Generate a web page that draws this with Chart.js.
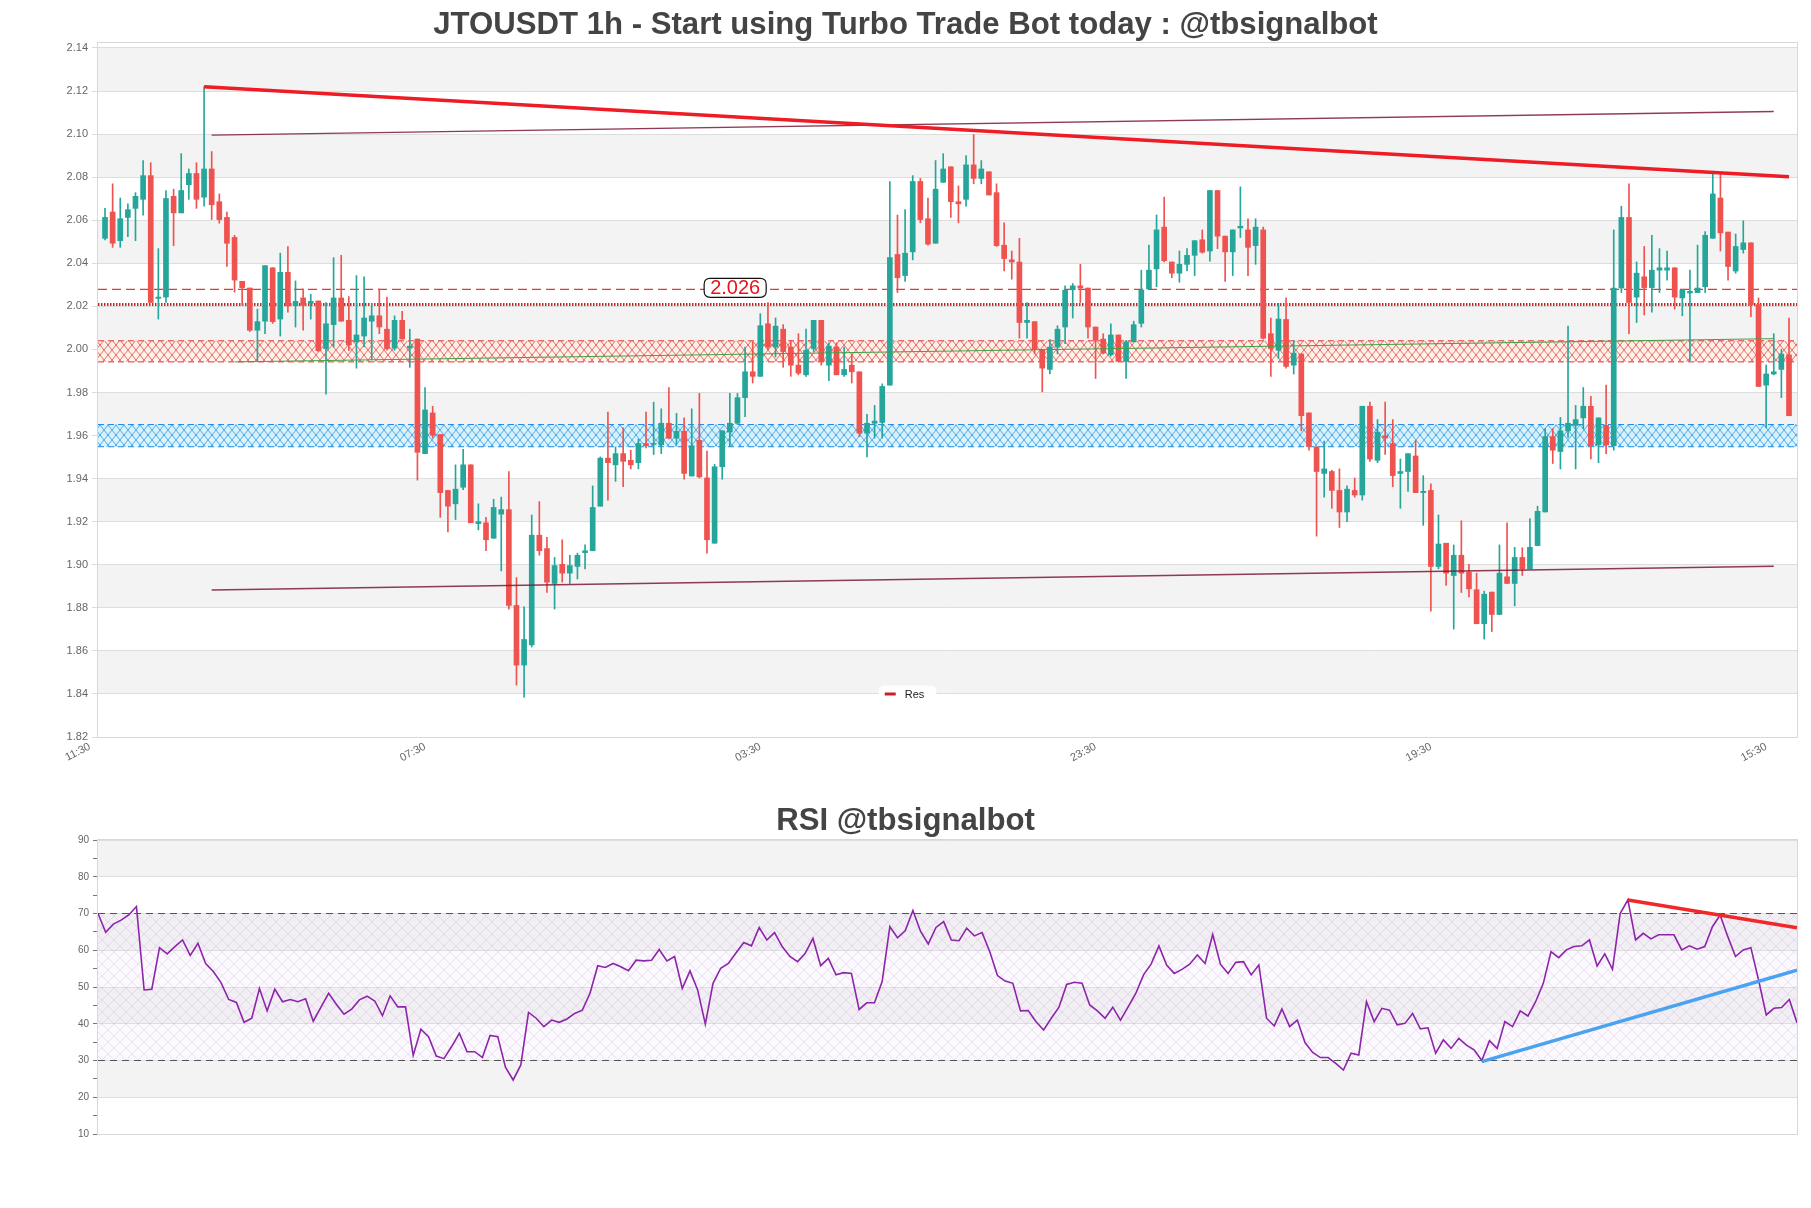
<!DOCTYPE html>
<html><head><meta charset="utf-8">
<script src="https://cdn.jsdelivr.net/npm/chart.js@4.4.1/dist/chart.umd.min.js"></script>
<style>
html,body{margin:0;padding:0;background:#fff;}
#wrap{position:relative;width:1811px;height:1208px;overflow:hidden;background:#fff;}
canvas{position:absolute;left:0;}
</style></head><body>
<div id="wrap">
<canvas id="c1" width="1811" height="790" style="top:0"></canvas>
<canvas id="c2" width="1811" height="418" style="top:790px"></canvas>
</div>
<script>
const mainTitle = 'JTOUSDT 1h - Start using Turbo Trade Bot today : @tbsignalbot';
const rsiTitle = 'RSI @tbsignalbot';
const timeTickIndex = [-2, 42, 86, 130, 174, 218];
const timeTickLabels = ['11:30', '07:30', '03:30', '23:30', '19:30', '15:30'];
const priceTicks = [1.82,1.84,1.86,1.88,1.90,1.92,1.94,1.96,1.98,2.00,2.02,2.04,2.06,2.08,2.10,2.12,2.14];
const rsiTicks = [10,15,20,25,30,35,40,45,50,55,60,65,70,75,80,85,90];

const opens = [
2.0516,2.0638,2.0505,2.0613,2.0655,2.0697,2.0807,2.0237,2.0243,2.0711,
2.0634,2.0765,2.0817,2.0707,2.0838,2.0686,2.0613,2.0520,2.0316,2.0285,
2.0089,2.0131,2.0379,2.0141,2.0358,2.0204,2.0239,2.0214,2.0225,2.0004,
2.0115,2.0239,2.0135,2.0035,2.0062,2.0131,2.0156,2.0094,2.0006,2.0135,
2.0006,2.0048,1.9516,1.9705,1.9605,1.9345,1.9283,1.9360,1.9464,1.9191,
1.9195,1.9123,1.9235,1.9256,1.8811,1.8534,1.8628,1.9137,1.9075,1.8913,
1.9002,1.8961,1.8992,1.9056,1.9065,1.9272,1.9495,1.9464,1.9516,1.9485,
1.9474,1.9563,1.9559,1.9557,1.9657,1.9588,1.9620,1.9412,1.9578,1.9403,
1.9100,1.9455,1.9616,1.9657,1.9776,1.9896,1.9875,2.0119,2.0011,2.0094,
2.0011,1.9927,1.9882,2.0004,2.0135,1.9927,2.0011,1.9882,1.9927,1.9896,
1.9611,1.9657,1.9661,1.9834,2.0441,2.0343,2.0453,2.0780,2.0607,2.0493,
2.0776,2.0848,2.0686,2.0697,2.0857,2.0794,2.0825,2.0728,2.0484,2.0416,
2.0406,2.0125,2.0129,2.0000,1.9907,2.0011,2.0104,2.0277,2.0295,2.0285,
2.0104,2.0048,1.9975,2.0067,1.9944,2.0035,2.0121,2.0281,2.0374,2.0568,
2.0406,2.0354,2.0395,2.0437,2.0509,2.0457,2.0738,2.0526,2.0453,2.0564,
2.0555,2.0482,2.0555,2.0073,1.9996,2.0139,1.9927,1.9979,1.9705,1.9547,
1.9424,1.9433,1.9345,1.9245,1.9345,1.9324,1.9736,1.9485,1.9599,1.9563,
1.9424,1.9433,1.9505,1.9335,1.9345,1.8992,1.9100,1.8950,1.9044,1.8965,
1.8884,1.8726,1.8873,1.8769,1.8944,1.8913,1.9034,1.8981,1.9089,1.9245,
1.9595,1.9526,1.9622,1.9647,1.9682,1.9736,1.9557,1.9647,1.9553,2.0285,
2.0613,2.0243,2.0337,2.0287,2.0368,2.0368,2.0379,2.0239,2.0262,2.0264,
2.0291,2.0516,2.0703,2.0545,2.0364,2.0464,2.0495,2.0208,1.9834,1.9886,
1.9907,1.9975];
const highs = [
2.0655,2.0769,2.0703,2.0676,2.0728,2.0877,2.0867,2.0468,2.0738,2.0744,
2.0909,2.0838,2.0867,2.1220,2.0919,2.0722,2.0638,2.0530,2.0316,2.0285,
2.0187,2.0389,2.0379,2.0447,2.0478,2.0318,2.0281,2.0256,2.0225,2.0218,
2.0426,2.0437,2.0245,2.0343,2.0337,2.0214,2.0281,2.0243,2.0156,2.0177,
2.0094,2.0048,1.9823,1.9736,1.9605,1.9345,1.9464,1.9536,1.9464,1.9283,
1.9220,1.9304,1.9314,1.9433,1.8940,1.8805,1.9231,1.9293,1.9127,1.9034,
1.9116,1.9044,1.9054,1.9092,1.9366,1.9501,1.9709,1.9547,1.9636,1.9532,
1.9584,1.9709,1.9755,1.9724,1.9823,1.9703,1.9682,1.9724,1.9796,1.9528,
1.9466,1.9622,1.9796,1.9796,2.0011,2.0035,2.0166,2.0218,2.0146,2.0115,
2.0042,2.0073,2.0094,2.0135,2.0135,2.0031,2.0031,2.0011,1.9979,1.9896,
1.9699,1.9740,1.9840,2.0780,2.0624,2.0649,2.0807,2.0794,2.0703,2.0877,
2.0909,2.0848,2.0759,2.0900,2.0998,2.0877,2.0825,2.0769,2.0588,2.0457,
2.0516,2.0218,2.0129,2.0000,2.0046,2.0110,2.0295,2.0306,2.0395,2.0285,
2.0104,2.0073,2.0119,2.0067,2.0042,2.0131,2.0368,2.0484,2.0624,2.0707,
2.0406,2.0457,2.0468,2.0505,2.0555,2.0738,2.0738,2.0526,2.0555,2.0755,
2.0607,2.0607,2.0568,2.0146,2.0214,2.0239,2.0042,1.9979,1.9705,1.9547,
1.9574,1.9439,1.9445,1.9366,1.9403,1.9736,1.9755,1.9674,1.9755,1.9674,
1.9491,1.9516,1.9578,1.9414,1.9376,1.9231,1.9100,1.9092,1.9204,1.9002,
1.8961,1.8877,1.8873,1.9092,1.9195,1.9081,1.9079,1.9214,1.9272,1.9632,
1.9632,1.9684,2.0108,1.9740,1.9823,1.9782,1.9682,1.9834,2.0555,2.0665,
2.0769,2.0406,2.0478,2.0530,2.0468,2.0457,2.0379,2.0277,2.0368,2.0484,
2.0547,2.0817,2.0817,2.0545,2.0536,2.0597,2.0495,2.0239,1.9927,2.0073,
2.0000,2.0146];
const lows = [
2.0509,2.0474,2.0474,2.0524,2.0505,2.0624,2.0218,2.0141,2.0218,2.0482,
2.0634,2.0697,2.0655,2.0665,2.0603,2.0586,2.0385,2.0266,2.0204,2.0083,
1.9948,2.0073,2.0121,2.0062,2.0173,2.0104,2.0089,2.0141,1.9990,1.9792,
2.0011,2.0131,1.9994,1.9913,2.0011,1.9952,2.0073,1.9996,1.9996,2.0048,
1.9917,1.9393,1.9516,1.9588,1.9220,1.9152,1.9210,1.9349,1.9195,1.9162,
1.9065,1.9123,1.8971,1.8794,1.8441,1.8385,1.8618,1.9044,1.8871,1.8794,
1.8919,1.8913,1.8934,1.8981,1.9065,1.9272,1.9300,1.9387,1.9362,1.9445,
1.9445,1.9543,1.9512,1.9516,1.9584,1.9559,1.9397,1.9412,1.9403,1.9054,
1.9100,1.9397,1.9549,1.9651,1.9688,1.9844,1.9875,2.0000,1.9965,1.9917,
1.9875,1.9882,1.9875,1.9990,1.9927,1.9855,1.9882,1.9875,1.9844,1.9595,
1.9501,1.9588,1.9588,1.9834,2.0264,2.0316,2.0416,2.0588,2.0484,2.0493,
2.0776,2.0613,2.0588,2.0665,2.0769,2.0769,2.0717,2.0478,2.0364,2.0326,
2.0052,2.0052,1.9979,1.9803,1.9886,1.9979,2.0027,2.0146,2.0218,2.0052,
1.9865,1.9979,1.9969,1.9944,1.9865,2.0035,2.0104,2.0281,2.0291,2.0406,
2.0333,2.0312,2.0364,2.0343,2.0447,2.0410,2.0468,2.0316,2.0343,2.0520,
2.0343,2.0395,2.0048,1.9875,1.9958,1.9913,1.9886,1.9622,1.9532,1.9133,
1.9314,1.9262,1.9173,1.9200,1.9314,1.9300,1.9480,1.9474,1.9512,1.9362,
1.9262,1.9341,1.9335,1.9183,1.8784,1.8981,1.8904,1.8701,1.8871,1.8850,
1.8726,1.8655,1.8690,1.8769,1.8913,1.8809,1.8950,1.8981,1.9089,1.9245,
1.9470,1.9445,1.9591,1.9445,1.9632,1.9491,1.9474,1.9516,1.9532,2.0264,
2.0073,2.0125,2.0160,2.0173,2.0264,2.0322,2.0187,2.0156,1.9948,2.0264,
2.0264,2.0516,2.0457,2.0322,2.0354,2.0447,2.0152,1.9828,1.9636,1.9882,
1.9776,1.9692];
const closes = [
2.0613,2.0493,2.0607,2.0649,2.0711,2.0807,2.0218,2.0243,2.0701,2.0634,
2.0738,2.0817,2.0697,2.0838,2.0672,2.0603,2.0493,2.0322,2.0287,2.0089,
2.0129,2.0389,2.0129,2.0358,2.0202,2.0223,2.0204,2.0223,1.9994,2.0119,
2.0239,2.0131,2.0021,2.0067,2.0146,2.0156,2.0104,2.0004,2.0135,2.0048,
2.0015,1.9522,1.9719,1.9601,1.9335,1.9272,1.9351,1.9464,1.9195,1.9200,
1.9116,1.9266,1.9256,1.8811,1.8534,1.8653,1.9137,1.9065,1.8919,1.8996,
1.8961,1.8996,1.9044,1.9065,1.9266,1.9495,1.9474,1.9516,1.9480,1.9464,
1.9563,1.9553,1.9563,1.9657,1.9588,1.9620,1.9424,1.9553,1.9408,1.9116,
1.9455,1.9622,1.9657,1.9776,1.9896,1.9875,2.0110,2.0011,2.0108,1.9990,
1.9927,1.9890,1.9996,2.0135,1.9944,2.0015,1.9882,1.9907,1.9896,1.9611,
1.9657,1.9667,1.9828,2.0426,2.0333,2.0447,2.0780,2.0603,2.0489,2.0744,
2.0838,2.0686,2.0676,2.0857,2.0794,2.0838,2.0717,2.0482,2.0422,2.0406,
2.0125,2.0135,2.0000,1.9913,2.0011,2.0094,2.0275,2.0295,2.0285,2.0104,
2.0042,1.9983,2.0067,1.9944,2.0035,2.0115,2.0275,2.0368,2.0555,2.0412,
2.0354,2.0395,2.0437,2.0505,2.0451,2.0738,2.0526,2.0453,2.0555,2.0572,
2.0474,2.0568,2.0052,2.0004,2.0141,1.9921,1.9983,1.9692,1.9549,1.9433,
1.9445,1.9345,1.9245,1.9351,1.9324,1.9736,1.9491,1.9616,1.9588,1.9414,
1.9433,1.9516,1.9335,1.9341,1.8992,1.9096,1.8961,1.9044,1.8961,1.8888,
1.8726,1.8863,1.8769,1.8961,1.8913,1.9034,1.8981,1.9081,1.9248,1.9595,
1.9532,1.9622,1.9657,1.9674,1.9736,1.9553,1.9682,1.9557,2.0285,2.0613,
2.0218,2.0354,2.0287,2.0368,2.0379,2.0379,2.0243,2.0275,2.0270,2.0285,
2.0530,2.0722,2.0541,2.0385,2.0478,2.0495,2.0208,1.9828,1.9886,1.9896,
1.9979,1.9692];
const rsiValues = [
70.0,64.9,67.1,68.2,69.6,71.9,49.2,49.4,60.7,59.0,
61.0,62.8,58.6,61.9,56.4,54.2,51.2,46.6,45.8,40.4,
41.5,49.6,43.5,49.4,46.0,46.6,46.0,46.8,40.7,44.5,
48.3,45.3,42.6,44.0,46.5,47.5,46.2,42.2,47.6,44.6,
44.6,31.4,38.5,36.5,31.2,30.5,33.8,37.4,32.4,32.4,
30.8,36.8,36.5,28.2,24.7,28.8,43.1,41.5,39.2,41.0,
40.4,41.3,42.8,43.7,48.3,55.8,55.3,56.4,55.5,54.4,
57.3,57.1,57.3,60.2,57.1,58.3,49.6,54.4,49.2,39.9,
51.0,55.1,56.4,59.3,62.1,61.2,66.2,62.8,64.8,61.0,
58.3,56.9,59.2,63.2,55.8,57.8,53.3,53.9,53.7,43.9,
45.7,45.7,51.5,66.4,63.4,65.3,70.8,65.1,61.7,66.2,
67.8,62.8,62.6,66.0,63.9,64.8,59.6,53.1,51.6,51.0,
43.5,43.6,40.6,38.3,41.5,44.5,50.7,51.3,51.0,45.1,
43.5,41.5,44.5,41.0,44.6,48.3,53.3,56.3,61.2,56.0,
53.7,54.8,56.2,58.7,56.4,64.3,56.2,53.7,56.7,56.9,
53.3,56.0,41.5,39.4,44.0,39.2,41.0,34.9,32.2,30.8,
30.8,29.2,27.4,32.0,31.5,46.0,40.6,44.2,43.7,39.7,
40.1,42.8,38.6,38.9,32.0,35.6,33.3,36.0,34.2,32.9,
30.0,35.4,33.3,40.6,39.2,43.5,42.1,46.0,51.0,59.6,
58.0,60.1,61.0,61.2,62.8,55.7,59.0,54.8,70.0,73.7,
62.8,64.6,63.1,64.2,64.2,64.2,60.1,61.2,60.3,61.0,
66.4,69.6,63.7,58.3,60.1,60.7,51.9,42.4,44.2,44.4,
46.6,40.3];

// overlays (index, price)
const resistanceLine = [{x: 13, y: 2.1220}, {x: 221, y: 2.0802}];
const channelUpper = [{x: 14, y: 2.0995}, {x: 219, y: 2.1105}];
const channelLower = [{x: 14, y: 1.8883}, {x: 219, y: 1.8993}];
const greenLine = [{x: 17, y: 1.9942}, {x: 219, y: 2.0050}];
const dashedLevel = 2.0279;
const dottedLevel = 2.0208;
const resZone = [1.9942, 2.0040];
const supZone = [1.9548, 1.9651];
const levelLabel = '2.026';
const levelLabelIndex = 82.7;
const legendLabel = 'Res';
const rsiResLine = [{x: 199, y: 73.7}, {x: 221, y: 66.1}];
const rsiSupLine = [{x: 180, y: 29.7}, {x: 221, y: 54.6}];
const rsiZone = [30, 70];

const UP = '#26a69a', DOWN = '#ef5350';
const FAMILY = "'Liberation Sans', Arial, Helvetica, sans-serif";
Chart.defaults.font.family = FAMILY;
Chart.defaults.color = '#666';

const mctx = document.createElement('canvas').getContext('2d');
mctx.font = 'bold 100px ' + FAMILY;
const titleSize = 100 * 945 / mctx.measureText(mainTitle).width;
const tLH = titleSize * 1.2;

function hatch(w, h, bg, line, lw) {
  const c = document.createElement('canvas'); c.width = w; c.height = h;
  const g = c.getContext('2d');
  if (bg) { g.fillStyle = bg; g.fillRect(0, 0, w, h); }
  g.strokeStyle = line; g.lineWidth = lw;
  g.beginPath(); g.moveTo(0, 0); g.lineTo(w, h); g.moveTo(w, 0); g.lineTo(0, h); g.stroke();
  return g.createPattern(c, 'repeat');
}
const redHatch = hatch(8, 10, 'rgba(255,238,228,0.75)', 'rgba(220,40,40,0.85)', 0.8);
const blueHatch = hatch(8, 10, 'rgba(205,240,255,0.75)', 'rgba(25,140,220,0.9)', 0.8);
const rsiHatch = hatch(12, 12, 'rgba(235,220,245,0.18)', 'rgba(170,130,190,0.28)', 0.7);

function hline(ctx, a, y, color, width, dash) {
  ctx.save(); ctx.strokeStyle = color; ctx.lineWidth = width; ctx.setLineDash(dash);
  ctx.beginPath(); ctx.moveTo(a.left, y); ctx.lineTo(a.right, y); ctx.stroke(); ctx.restore();
}
function bands(chart, ticks, grayOdd) {
  const {ctx, chartArea: a, scales: {y}} = chart;
  ctx.save();
  for (let k = 0; k < ticks.length - 1; k++) {
    if ((k % 2 === 1) === grayOdd) {
      const y1 = y.getPixelForValue(ticks[k]), y2 = y.getPixelForValue(ticks[k + 1]);
      ctx.fillStyle = '#f3f3f3'; ctx.fillRect(a.left, y2, a.width, y1 - y2);
    }
  }
  ctx.restore();
}
function frame(chart) {
  const {ctx, chartArea: a} = chart;
  ctx.save(); ctx.strokeStyle = '#d8d8d8'; ctx.lineWidth = 1;
  ctx.strokeRect(Math.round(a.left) - 0.5, Math.round(a.top) - 0.5, Math.round(a.width) + 1, Math.round(a.height) + 1);
  ctx.restore();
}
function roundRect(ctx, x, y, w, h, r) {
  ctx.beginPath(); ctx.moveTo(x + r, y); ctx.lineTo(x + w - r, y); ctx.quadraticCurveTo(x + w, y, x + w, y + r);
  ctx.lineTo(x + w, y + h - r); ctx.quadraticCurveTo(x + w, y + h, x + w - r, y + h);
  ctx.lineTo(x + r, y + h); ctx.quadraticCurveTo(x, y + h, x, y + h - r);
  ctx.lineTo(x, y + r); ctx.quadraticCurveTo(x, y, x + r, y); ctx.closePath();
}

const mainDeco = {
  id: 'mainDeco',
  beforeDraw(chart) { bands(chart, priceTicks, true); },
  beforeDatasetsDraw(chart) {
    const {ctx, chartArea: a, scales: {y}} = chart;
    ctx.save();
    ctx.beginPath(); ctx.rect(a.left, a.top, a.width, a.height); ctx.clip();
    [[resZone, redHatch, '#e53935'], [supZone, blueHatch, '#1e88e5']].forEach(([z, pat, col]) => {
      const yt = y.getPixelForValue(z[1]), yb = y.getPixelForValue(z[0]);
      ctx.fillStyle = pat; ctx.fillRect(a.left, yt, a.width, yb - yt);
      hline(ctx, a, yt, col, 1, [6, 4]);
      hline(ctx, a, yb, col, 1, [6, 4]);
    });
    hline(ctx, a, y.getPixelForValue(dashedLevel), '#e53935', 1.2, [9, 5]);
    hline(ctx, a, y.getPixelForValue(dottedLevel), '#c62828', 3, [1.5, 1.5]);
    ctx.restore();
  },
  afterDatasetsDraw(chart) {
    const {ctx, chartArea: a, scales: {x, y}} = chart;
    const cx = x.getPixelForValue(levelLabelIndex), cy = y.getPixelForValue(dashedLevel) - 1.5;
    ctx.save();
    ctx.font = '20px ' + FAMILY;
    const tw = ctx.measureText(levelLabel).width;
    const bw = tw + 12, bh = 19;
    roundRect(ctx, cx - bw / 2, cy - bh / 2, bw, bh, 6);
    ctx.fillStyle = '#fff'; ctx.fill(); ctx.strokeStyle = '#111'; ctx.lineWidth = 1.2; ctx.stroke();
    ctx.fillStyle = '#e8141c'; ctx.textAlign = 'center'; ctx.textBaseline = 'middle';
    ctx.fillText(levelLabel, cx, cy + 1);
    const ly = a.bottom - 43, lx = chart.width / 2;
    ctx.font = '11px ' + FAMILY;
    const lw = ctx.measureText(legendLabel).width;
    const boxW = 11 + 9 + lw + 18;
    roundRect(ctx, lx - boxW / 2 + 2, ly - 8.5, boxW, 17, 6);
    ctx.fillStyle = 'rgba(255,255,255,0.92)'; ctx.fill();
    const sx = lx - boxW / 2 + 8;
    ctx.strokeStyle = '#c8202a'; ctx.lineWidth = 3; ctx.setLineDash([]);
    ctx.beginPath(); ctx.moveTo(sx, ly); ctx.lineTo(sx + 11, ly); ctx.stroke();
    ctx.fillStyle = '#222'; ctx.textAlign = 'left'; ctx.textBaseline = 'middle';
    ctx.fillText(legendLabel, sx + 20, ly + 0.5);
    ctx.restore();
  },
  afterDraw(chart) { frame(chart); }
};

const rsiDeco = {
  id: 'rsiDeco',
  beforeDraw(chart) { bands(chart, rsiTicks.filter(v => v % 10 === 0), true); },
  beforeDatasetsDraw(chart) {
    const {ctx, chartArea: a, scales: {y}} = chart;
    const yt = y.getPixelForValue(rsiZone[1]), yb = y.getPixelForValue(rsiZone[0]);
    ctx.save();
    ctx.fillStyle = rsiHatch; ctx.fillRect(a.left, yt, a.width, yb - yt);
    hline(ctx, a, yt, '#555', 1.2, [7, 5]);
    hline(ctx, a, yb, '#555', 1.2, [7, 5]);
    ctx.restore();
  },
  afterDraw(chart) { frame(chart); }
};

const colors = opens.map((o, i) => closes[i] >= o ? UP : DOWN);
const bodies = opens.map((o, i) => ({x: i, y: [o, closes[i]]}));
const wicks = opens.map((o, i) => ({x: i, y: [lows[i], highs[i]]}));

function lineDs(data, color, width) {
  return {type: 'line', data, borderColor: color, borderWidth: width, pointRadius: 0, fill: false, tension: 0, order: 0};
}
// an empty right-hand axis that only reserves the margin, so titles stay centred on the page
const spacerAxis = {type: 'linear', position: 'right', min: 0, max: 1, grid: {display: false}, border: {display: false},
  ticks: {display: false}, afterFit: s => { s.width = 14; }};

new Chart(document.getElementById('c1'), {
  type: 'bar',
  data: {datasets: [
    lineDs(resistanceLine, '#ee1c24', 3.5),
    lineDs(channelUpper, 'rgba(125,25,55,0.85)', 1.4),
    lineDs(channelLower, 'rgba(125,25,55,0.85)', 1.4),
    lineDs(greenLine, '#43a047', 1),
    {type: 'bar', data: bodies, backgroundColor: colors, barThickness: 5, grouped: false, minBarLength: 1, borderWidth: 0, order: 1},
    {type: 'bar', data: wicks, backgroundColor: colors, barThickness: 1, grouped: false, borderWidth: 0, order: 2}
  ]},
  options: {
    responsive: false, animation: false, events: [],
    layout: {padding: 0},
    plugins: {
      legend: {display: false}, tooltip: {enabled: false},
      title: {display: true, text: mainTitle, color: '#444',
        font: {size: titleSize, weight: 'bold', family: FAMILY},
        padding: {top: 25 - tLH / 2, bottom: 43 - 25 - tLH / 2}}
    },
    scales: {
      x: {type: 'linear', min: -0.92, max: 222.05, offset: false,
        grid: {display: false, drawTicks: false}, border: {display: false},
        afterBuildTicks: s => { s.ticks = timeTickIndex.map(v => ({value: v})); },
        ticks: {autoSkip: false, minRotation: 28, maxRotation: 28, padding: 3, color: '#666', font: {size: 11},
          callback: (v, i) => timeTickLabels[i]},
        afterFit: s => { s.height = 53; }},
      y: {type: 'linear', min: 1.82, max: 2.1423,
        afterBuildTicks: s => { s.ticks = priceTicks.map(v => ({value: v})); },
        ticks: {padding: 4, color: '#666', font: {size: 11}, callback: v => Number(v).toFixed(2)},
        grid: {color: '#dddddd', tickLength: 6}, border: {display: false},
        afterFit: s => { s.width = 98; }},
      yr: spacerAxis
    }
  },
  plugins: [mainDeco]
});

new Chart(document.getElementById('c2'), {
  type: 'line',
  data: {datasets: [
    {data: rsiValues.map((v, i) => ({x: i, y: v})), borderColor: '#8e24aa', borderWidth: 1.6, pointRadius: 0, tension: 0, fill: false, order: 1},
    {data: rsiResLine, borderColor: '#f02828', borderWidth: 3.5, pointRadius: 0, fill: false, order: 0},
    {data: rsiSupLine, borderColor: '#4aa3f0', borderWidth: 3.5, pointRadius: 0, fill: false, order: 0}
  ]},
  options: {
    responsive: false, animation: false, events: [],
    layout: {padding: {left: 0, right: 0, top: 0, bottom: 74}},
    plugins: {
      legend: {display: false}, tooltip: {enabled: false},
      title: {display: true, text: rsiTitle, color: '#444',
        font: {size: titleSize, weight: 'bold', family: FAMILY},
        padding: {top: 31 - tLH / 2, bottom: 50 - 31 - tLH / 2}}
    },
    scales: {
      x: {type: 'linear', min: 0, max: 221, display: false},
      y: {type: 'linear', min: 10, max: 90,
        afterBuildTicks: s => { s.ticks = rsiTicks.map(v => ({value: v})); },
        ticks: {padding: 4, color: '#666', font: {size: 10}, callback: v => (v % 10 === 0 ? String(v) : '')},
        grid: {color: c => (c.tick && c.tick.value % 10 === 0 ? '#dddddd' : 'rgba(0,0,0,0)'),
          tickColor: '#777', tickLength: 5}, border: {display: false},
        afterFit: s => { s.width = 98; }},
      yr: spacerAxis
    }
  },
  plugins: [rsiDeco]
});
</script>
</body></html>
